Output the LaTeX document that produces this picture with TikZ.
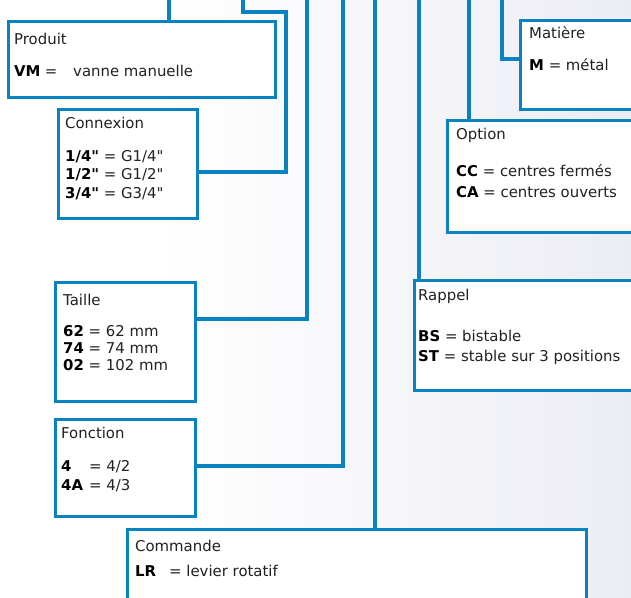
\documentclass[tikz,border=0pt]{standalone}
\usepackage{fontspec}
\setmainfont{DejaVu Sans}[Ligatures=TeXOff]
\definecolor{lineblue}{RGB}{11,130,192}
\definecolor{txt}{RGB}{35,32,34}
\definecolor{bgr}{RGB}{236,237,244}
\begin{document}
\begin{tikzpicture}[x=1pt,y=-1pt,
  box/.style={draw=lineblue, line width=3.4pt, fill=white, anchor=north west, inner sep=0pt},
  conn/.style={draw=lineblue, line width=3.2pt},
  lbl/.style={anchor=base west, inner sep=0pt, text=txt, font=\fontsize{14.9}{17}\selectfont},
  key/.style={lbl, text=black, font=\fontsize{14.9}{17}\selectfont\bfseries}]
\useasboundingbox (0,0) rectangle (631,597);
\clip (0,0) rectangle (631,597);
\fill[white] (0,0) rectangle (631,597);
\shade[left color=white, right color=bgr] (160,0) rectangle (631,597);

% boxes
\node[box, minimum width=267pt, minimum height=76pt] (produit) at (6.5,19.5) {};
\node[box, minimum width=139pt, minimum height=109pt] (connexion) at (56.5,107.5) {};
\node[box, minimum width=150pt, minimum height=89pt] (matiere) at (518.5,18.5) {};
\node[box, minimum width=220pt, minimum height=112pt] (option) at (445.5,118.5) {};
\node[box, minimum width=140pt, minimum height=119pt] (taille) at (53.5,280.5) {};
\node[box, minimum width=250pt, minimum height=110pt] (rappel) at (412.5,278.5) {};
\node[box, minimum width=140pt, minimum height=97pt] (fonction) at (53.5,417.5) {};
\node[box, minimum width=459pt, minimum height=100pt] (commande) at (125.5,527.5) {};

% connector free ends
\coordinate (t1) at (169,-3);
\coordinate (t2) at (243,-3);
\coordinate (t3) at (307,-3);
\coordinate (t4) at (343,-3);
\coordinate (t5) at (375,-3);
\coordinate (t6) at (419,-3);
\coordinate (t7) at (469,-3);
\coordinate (t8) at (502,-3);

\draw[conn] (t1) -- (t1 |- produit.north);
\draw[conn] (t2) -- (243,12) -- (286,12) -- (286,172) -- (connexion.east |- 0,172);
\draw[conn] (t3) -- (307,319) -- (taille.east |- 0,319);
\draw[conn] (t4) -- (343,466) -- (fonction.east |- 0,466);
\draw[conn] (t5) -- (t5 |- commande.north);
\draw[conn] (t6) -- (t6 |- rappel.north);
\draw[conn] (t7) -- (t7 |- option.north);
\draw[conn] (t8) -- (502,59) -- (matiere.west |- 0,59);

% Produit
\node[lbl] (produit-t) at (14,44) {Produit};
\node[key] (produit-k) at (14,76) {VM};
\node[lbl] (produit-e) at (produit-k.base east) [anchor=base west, xshift=4pt] {=};
\node[lbl] (produit-v) at (73,76) {vanne manuelle};

% Connexion
\node[lbl] (connexion-t) at (65,128) {Connexion};
\node[lbl] (connexion-1) at (65,161) {\textcolor{black}{\bfseries 1/4"} = G1/4"};
\node[lbl] (connexion-2) at (65,179.5) {\textcolor{black}{\bfseries 1/2"} = G1/2"};
\node[lbl] (connexion-3) at (65,198) {\textcolor{black}{\bfseries 3/4"} = G3/4"};

% Matiere
\node[lbl] (matiere-t) at (529,38.5) {Matière};
\node[lbl] (matiere-1) at (529,70.5) {\textcolor{black}{\bfseries M} = métal};

% Option
\node[lbl] (option-t) at (456,139) {Option};
\node[lbl] (option-1) at (456,176.5) {\textcolor{black}{\bfseries CC} = centres fermés};
\node[lbl] (option-2) at (456,197) {\textcolor{black}{\bfseries CA} = centres ouverts};

% Taille
\node[lbl] (taille-t) at (63,305) {Taille};
\node[lbl] (taille-1) at (63,336.5) {\textcolor{black}{\bfseries 62} = 62 mm};
\node[lbl] (taille-2) at (63,353) {\textcolor{black}{\bfseries 74} = 74 mm};
\node[lbl] (taille-3) at (63,370.5) {\textcolor{black}{\bfseries 02} = 102 mm};

% Rappel
\node[lbl] (rappel-t) at (418,300) {Rappel};
\node[lbl] (rappel-1) at (418,341.5) {\textcolor{black}{\bfseries BS} = bistable};
\node[lbl] (rappel-2) at (418,361.5) {\textcolor{black}{\bfseries ST} = stable sur 3 positions};

% Fonction
\node[lbl] (fonction-t) at (61,438.5) {Fonction};
\node[key] (fonction-k1) at (61,471.5) {4};
\node[lbl] (fonction-v1) at (89,471.5) {= 4/2};
\node[key] (fonction-k2) at (61,490) {4A};
\node[lbl] (fonction-v2) at (89,490) {= 4/3};

% Commande
\node[lbl] (commande-t) at (135,551.5) {Commande};
\node[key] (commande-k) at (135,576.5) {LR};
\node[lbl] (commande-v) at (169,576.5) {= levier rotatif};
\end{tikzpicture}
\end{document}
